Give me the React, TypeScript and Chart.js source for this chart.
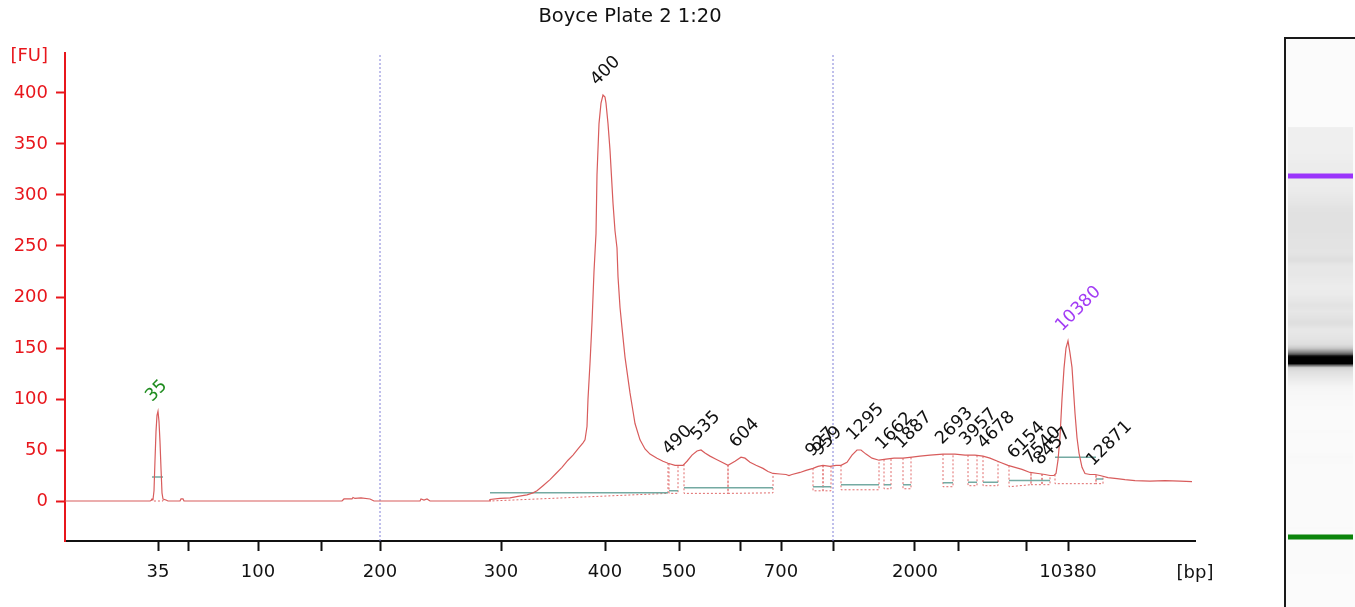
import React, { useEffect, useRef } from "react";
import { Chart, registerables } from "chart.js";

Chart.register(...registerables);

const TITLE = "Boyce Plate 2 1:20";

// migration position (arbitrary units) of each trace sample
const traceX = [
  0, 85, 86, 87, 88, 89, 90, 91, 92, 93, 94, 95, 96, 97, 98, 101, 103, 115, 116, 118, 119,
  277, 279, 287, 288, 290, 296, 305, 309, 355, 356, 359, 362, 365,
  424, 425, 435, 445, 453, 462, 468, 472, 478, 485, 491, 497, 503, 508, 513, 518, 520,
  522, 523, 525, 527, 529, 531, 532, 534, 536, 538, 540, 541, 543, 545, 548, 550, 552,
  553, 555, 557, 560, 563, 565, 568, 570, 575, 580, 585, 592, 598, 603, 610, 618, 622,
  627, 632, 636, 640, 645, 651, 657, 663, 670, 676, 680, 685, 691, 698, 703, 708, 715,
  721, 724, 727, 735, 741, 748, 753, 758, 765, 771, 776, 782, 787, 792, 796, 801, 807,
  814, 821, 829, 838, 847, 855, 865, 878, 890, 900, 910, 918, 925, 935, 943, 950, 957,
  965, 973, 980, 985, 989, 991, 993, 995, 997, 999, 1001, 1003, 1005, 1007, 1010, 1012,
  1014, 1017, 1020, 1025, 1030, 1035, 1043, 1052, 1060, 1070, 1085, 1100, 1115, 1127,
];
// fluorescence [FU] of each trace sample
const traceFU = [
  0, 0, 0.5, 2, 1.5, 10, 40, 68, 84, 88, 78, 58, 32, 8, 2, 1, 0, 0, 2, 2, 0,
  0, 2, 2, 3.5, 2.5, 3, 2, 0, 0, 2, 1, 2, 0,
  0, 1.5, 2.5, 3, 4.5, 6, 8, 10, 15, 21, 27, 33, 40, 45, 51, 57, 60,
  73, 100, 135, 175, 225, 262, 320, 370, 390, 398, 396, 390, 370, 344, 292, 265, 248,
  220, 190, 170, 141, 120, 106, 88, 76, 60, 51, 46, 42, 39, 37, 35, 35, 39,
  45, 49, 50, 47, 44, 41, 38, 35, 39, 43, 42, 38, 35, 32, 29, 27, 26.5,
  26, 25, 26, 28, 30, 32, 34, 35, 34, 35, 35, 38, 45, 50, 50, 46, 42,
  40, 41, 42, 42, 43, 44, 45, 46, 46, 45, 45, 44, 42, 38, 35, 33, 31,
  28, 27, 26, 25, 25, 27, 40, 63, 100, 130, 150, 157, 145, 131, 86, 62,
  47, 33, 27, 26, 26, 25, 23, 22, 21, 20, 19.5, 20, 19.5, 19,
];

const xTickValues = [93, 123, 193, 256, 315, 436, 540, 614, 675, 716, 768, 850, 893, 961, 1003];
const xTickLabels = ["35", "", "100", "", "200", "300", "400", "500", "", "700", "", "2000", "", "", "10380"];
const yTickValues = [0, 50, 100, 150, 200, 250, 300, 350, 400];
const markerLineX = [315, 768];

const peakLabels = ["35", "400", "490", "535", "604", "927", "959", "1295", "1662", "1887", "2693", "3957", "4678", "6154", "7540", "8457", "10380", "12871"];
const peakX = [93, 538, 610, 638, 677, 753, 760, 794, 823, 842, 883, 907, 925, 955, 971, 981, 1003, 1034];
const peakFU = [88, 398, 36, 50, 43, 34, 35, 50, 41, 42, 46, 45, 42, 32, 27, 26, 157, 25];
const peakKind = ["lower", "", "", "", "", "", "", "", "", "", "", "", "", "", "", "", "upper", ""];

const regionStart = [87, 425, 604, 619, 663, 748, 758, 776, 819, 838, 878, 903, 918, 944, 966, 977, 990, 1031];
const regionEnd = [98, 603, 613, 663, 708, 758, 766, 814, 826, 846, 888, 912, 933, 966, 977, 985, 1031, 1038];
const regionBaseStart = [0, 0, 7.5, 7.5, 7.5, 10, 10, 11, 12, 12, 14, 15, 15, 14, 16, 16, 17, 17];
const regionBaseEnd = [0, 7.5, 7.5, 7.5, 8, 10, 10, 11, 12, 12, 14, 15, 15, 16, 16, 16, 17, 17];
const regionLevel = [23.5, 8, 10, 13, 13, 14, 14, 16, 16, 16, 18, 18.5, 18.5, 20, 20, 20, 43, 21.5];

const Y_MIN = -39.2;
const Y_MAX = 439.2;
const X_MIN = 0;
const X_MAX = 1130;

const RED = "#e8161c";
const FONT = '"DejaVu Sans", sans-serif';

function curveAt(t: number): number {
  if (t <= traceX[0]) return traceFU[0];
  for (let i = 1; i < traceX.length; i++) {
    if (t <= traceX[i]) {
      const f = (t - traceX[i - 1]) / (traceX[i] - traceX[i - 1]);
      return traceFU[i - 1] + f * (traceFU[i] - traceFU[i - 1]);
    }
  }
  return traceFU[traceFU.length - 1];
}

const overlayPlugin = {
  id: "overlay",
  afterDraw(chart: any) {
    const { ctx } = chart;
    const xs = chart.scales.x;
    const ys = chart.scales.y;
    ctx.save();
    // peak labels
    ctx.font = `17.5px ${FONT}`;
    ctx.textAlign = "left";
    ctx.textBaseline = "alphabetic";
    peakLabels.forEach((txt, i) => {
      const px = xs.getPixelForValue(peakX[i]);
      const py = ys.getPixelForValue(peakFU[i]);
      ctx.save();
      ctx.translate(px - 6, py - 9);
      ctx.rotate(-Math.PI / 4);
      ctx.fillStyle = peakKind[i] === "lower" ? "#1f8c1f" : peakKind[i] === "upper" ? "#a23cf5" : "#111";
      ctx.fillText(txt, 0, 0);
      ctx.restore();
    });
    // unit labels
    ctx.font = `18px ${FONT}`;
    ctx.textBaseline = "middle";
    ctx.textAlign = "right";
    ctx.fillStyle = RED;
    ctx.fillText("[FU]", ys.right - 17, ys.top + 3);
    ctx.textAlign = "center";
    ctx.fillStyle = "#111";
    ctx.fillText("[bp]", xs.right, xs.top + 32);

    // gel-like lane rendered from the trace
    const laneL = 1284;
    const laneT = 37;
    const W = chart.width;
    const H = chart.height;
    ctx.fillStyle = "#fbfbfb";
    ctx.fillRect(laneL + 2, laneT + 2, W - laneL - 2, H - laneT - 2);
    const lowT = peakX[0];
    const highT = peakX[16];
    const lowY = 537.5;
    const highY = 176.5;
    const k = (lowY - highY) / (highT - lowT);
    const tOf = (yy: number) => lowT + (lowY - yy) / k;
    const yOf = (t: number) => lowY - (t - lowT) * k;
    const qS = regionStart[16], qE = regionEnd[16];
    const aS = regionStart[0], aE = regionEnd[0];
    for (let yy = laneT + 2; yy < H; yy++) {
      const t = tOf(yy + 0.5);
      if (t < traceX[0] || t > traceX[traceX.length - 1]) continue;
      let v = curveAt(t);
      if (t >= qS && t <= qE) v = curveAt(qS) + ((t - qS) / (qE - qS)) * (curveAt(qE) - curveAt(qS));
      if (t >= aS && t <= aE) v = 0;
      let g = v <= 50 ? 250 - 0.55 * v : 222.5 - (v - 50) * 0.95;
      g = Math.max(0, Math.min(250, Math.round(g)));
      ctx.fillStyle = `rgb(${g},${g},${g})`;
      ctx.fillRect(laneL + 4, yy, W - laneL - 6, 1);
    }
    ctx.fillStyle = "#9b34fb";
    ctx.fillRect(laneL + 4, yOf(highT) - 3, W - laneL - 6, 5);
    ctx.fillStyle = "#0b840b";
    ctx.fillRect(laneL + 4, yOf(lowT) - 3, W - laneL - 6, 5);
    ctx.strokeStyle = "#1a1a1a";
    ctx.lineWidth = 2;
    ctx.beginPath();
    ctx.moveTo(laneL + 1, H);
    ctx.lineTo(laneL + 1, laneT + 1);
    ctx.lineTo(W, laneT + 1);
    ctx.stroke();
    ctx.restore();
  },
};

export default function App() {
  const ref = useRef<HTMLCanvasElement | null>(null);
  useEffect(() => {
    if (!ref.current) return;
    const trace = traceX.map((x, i) => ({ x, y: traceFU[i] }));
    const outline: any[] = [];
    const levels: any[] = [];
    regionStart.forEach((s, i) => {
      const e = regionEnd[i];
      outline.push({ x: s, y: curveAt(s) }, { x: s, y: regionBaseStart[i] }, { x: e, y: regionBaseEnd[i] }, { x: e, y: curveAt(e) }, { x: e, y: null });
      levels.push({ x: s, y: regionLevel[i] }, { x: e, y: regionLevel[i] }, { x: e, y: null });
    });
    const markers: any[] = [];
    markerLineX.forEach((m) => markers.push({ x: m, y: Y_MIN }, { x: m, y: Y_MAX }, { x: m, y: null }));

    const chart = new Chart(ref.current, {
      type: "line",
      data: {
        datasets: [
          { data: trace, borderColor: "#d85c5c", borderWidth: 1.2, pointRadius: 0, tension: 0, fill: false },
          { data: levels, borderColor: "#74aaa2", borderWidth: 1.5, pointRadius: 0, fill: false },
          { data: outline, borderColor: "#e06a6a", borderWidth: 1, borderDash: [2, 2], pointRadius: 0, fill: false },
          { data: markers, borderColor: "#8080d8", borderWidth: 1, borderDash: [2, 2], pointRadius: 0, fill: false },
        ],
      },
      options: {
        animation: false,
        responsive: false,
        devicePixelRatio: 1,
        layout: { padding: { left: 0, right: 160, top: 0, bottom: 0 } },
        plugins: {
          legend: { display: false },
          tooltip: { enabled: false },
          title: {
            display: true,
            text: TITLE,
            fullSize: false,
            color: "#111",
            font: { family: FONT, size: 19.5, weight: "normal" },
            padding: { top: 5, bottom: 24.6 },
          },
        },
        scales: {
          x: {
            type: "linear",
            min: X_MIN,
            max: X_MAX,
            afterBuildTicks: (s: any) => {
              s.ticks = xTickValues.map((v) => ({ value: v }));
            },
            afterFit: (s: any) => {
              s.height = 66;
            },
            ticks: {
              autoSkip: false,
              maxRotation: 0,
              color: "#111",
              padding: 11,
              font: { family: FONT, size: 18 },
              callback: (_v: any, i: number) => xTickLabels[i],
            },
            grid: { drawOnChartArea: false, drawTicks: true, tickLength: 10, tickColor: "#111", tickWidth: 2 },
            border: { color: "#111", width: 2 },
          },
          y: {
            type: "linear",
            min: Y_MIN,
            max: Y_MAX,
            afterBuildTicks: (s: any) => {
              s.ticks = yTickValues.map((v) => ({ value: v }));
            },
            afterFit: (s: any) => {
              s.width = 65;
            },
            ticks: { color: RED, padding: 8, font: { family: FONT, size: 18 } },
            grid: { drawOnChartArea: false, drawTicks: true, tickLength: 9, tickColor: RED, tickWidth: 2 },
            border: { color: RED, width: 2 },
          },
        },
      },
      plugins: [overlayPlugin],
    });
    return () => chart.destroy();
  }, []);
  return (
    <div style={{ position: "absolute", left: 0, top: 0, width: 1355, height: 607, background: "#fff" }}>
      <canvas ref={ref} width={1355} height={607} style={{ display: "block" }} />
    </div>
  );
}
